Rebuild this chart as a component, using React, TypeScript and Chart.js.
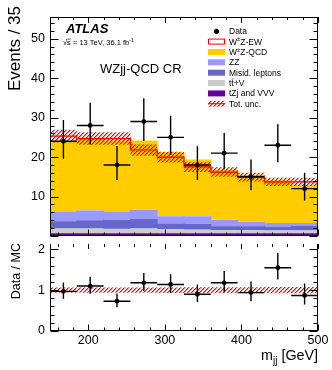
import React, { useEffect, useRef } from 'react';
import { Chart, registerables } from 'chart.js';

Chart.register(...registerables);

const FONT = '"Liberation Sans", Arial, Helvetica, sans-serif';

// ---------------- data ----------------
const binEdges = [150, 185, 220, 255, 290, 325, 360, 395, 430, 465, 500];
const binCenters = [167.5, 202.5, 237.5, 272.5, 307.5, 342.5, 377.5, 412.5, 447.5, 482.5];

const tzjVVV = [0.7, 0.7, 0.7, 0.7, 0.7, 0.7, 0.7, 0.7, 0.7, 0.7];
const ttV = [1.2, 1.2, 1.1, 1.2, 1.0, 0.9, 0.8, 0.8, 0.7, 0.7];
const misid = [1.85, 2.1, 2.3, 2.4, 1.5, 1.5, 1.0, 1.0, 1.0, 1.2];
const zz = [2.35, 2.5, 2.0, 2.4, 1.8, 1.9, 1.6, 1.1, 0.9, 0.7];
const wzQCD = [18.0, 18.4, 18.1, 17.5, 16.2, 14.4, 12.7, 11.9, 10.8, 9.6];
const wzEW = [0.4, 0.4, 0.5, 0.5, 0.6, 0.6, 0.7, 0.7, 0.8, 0.8];
const totUnc = [1.6, 1.6, 1.6, 1.6, 1.45, 1.35, 1.25, 1.2, 1.1, 1.05];

const dataEvents = [24, 28, 18, 29, 25, 18, 21, 15, 23, 12];
const dataErrUp = [5.4, 5.8, 4.8, 5.9, 5.5, 4.8, 5.1, 4.4, 5.3, 4.0];
const dataErrDown = [4.4, 4.8, 3.8, 4.9, 4.5, 3.8, 4.1, 3.4, 4.3, 3.0];

const ratioValues = [0.97, 1.1, 0.73, 1.18, 1.14, 0.9, 1.18, 0.94, 1.55, 0.87];
const ratioErrUp = [0.22, 0.23, 0.19, 0.24, 0.25, 0.24, 0.29, 0.27, 0.36, 0.29];
const ratioErrDown = [0.18, 0.19, 0.15, 0.2, 0.21, 0.19, 0.23, 0.21, 0.29, 0.22];

// ticks
const xMajorTicks = [200, 300, 400, 500];
const xMinorTicks = [160, 180, 220, 240, 260, 280, 320, 340, 360, 380, 420, 440, 460, 480];
const mainYLabels = [10, 20, 30, 40, 50];
const mainYMajor = [0, 10, 20, 30, 40, 50];
const mainYMinor = [2, 4, 6, 8, 12, 14, 16, 18, 22, 24, 26, 28, 32, 34, 36, 38, 42, 44, 46, 48, 52, 54];
const ratioYLabels = [0, 1, 2];
const ratioYMinor = [0.2, 0.4, 0.6, 0.8, 1.2, 1.4, 1.6, 1.8];

const MAIN_Y_MAX = 55.5;
const RATIO_Y_MAX = 2.13;

const COLORS = {
  qcd: '#ffcc00',
  zz: '#9999ff',
  misid: '#6666cc',
  ttv: '#cccccc',
  tzj: '#660099',
  red: '#ff0000',
};

// --------------- helpers ---------------
const mcTotal = binCenters.map(
  (_, i) => tzjVVV[i] + ttV[i] + misid[i] + zz[i] + wzQCD[i] + wzEW[i]
);

function stepPoints(vals: number[]) {
  return binEdges.map((e, i) => ({ x: e, y: vals[Math.min(i, vals.length - 1)] }));
}

function makeHatch(): CanvasPattern {
  const tile = document.createElement('canvas');
  tile.width = 4;
  tile.height = 4;
  const g = tile.getContext('2d')!;
  for (let y = 0; y < 4; y++) {
    g.fillStyle = 'rgba(255,0,0,1)';
    g.fillRect((3 - y + 4) % 4, y, 1, 1);
    g.fillStyle = 'rgba(255,0,0,0.45)';
    g.fillRect((4 - y + 4) % 4, y, 1, 1);
  }
  return g.createPattern(tile, 'repeat')!;
}

type Seg = { t: string; k?: 'sup' | 'sub' };
function drawSegs(ctx: CanvasRenderingContext2D, segs: Seg[], x: number, y: number, size: number, style = '') {
  let cx = x;
  for (const s of segs) {
    const fs = s.k ? size * 0.7 : size;
    ctx.font = `${style} ${fs}px ${FONT}`;
    const dy = s.k === 'sup' ? -size * 0.4 : s.k === 'sub' ? size * 0.28 : 0;
    ctx.fillText(s.t, cx, y + dy);
    cx += ctx.measureText(s.t).width;
  }
  return cx - x;
}
function segsWidth(ctx: CanvasRenderingContext2D, segs: Seg[], size: number, style = '') {
  let w = 0;
  for (const s of segs) {
    const fs = s.k ? size * 0.7 : size;
    ctx.font = `${style} ${fs}px ${FONT}`;
    w += ctx.measureText(s.t).width;
  }
  return w;
}

type TickCfg = {
  yMajor: number[];
  yMinor: number[];
  yMajLen: number;
  yMinLen: number;
  xMajLenBottom: number;
  xMinLenBottom: number;
  xMajLenTop: number;
  xMinLenTop: number;
  frameTop: boolean;
};

function ticksPlugin(cfg: TickCfg) {
  return {
    id: 'rootTicks',
    afterDraw(chart: any) {
      const { ctx, chartArea: a, scales } = chart;
      const xs = scales.x;
      const ys = scales.y;
      const px = (v: number) => Math.round(xs.getPixelForValue(v)) + 0.5;
      const py = (v: number) => Math.round(ys.getPixelForValue(v)) + 0.5;
      const L = a.left + 0.5;
      const R = a.right - 0.5;
      const T = a.top + 0.5;
      const B = a.bottom - 0.5;
      ctx.save();
      ctx.strokeStyle = '#000';
      ctx.lineWidth = 1;
      ctx.beginPath();
      const yt = (list: number[], len: number) => {
        for (const v of list) {
          const y = py(v);
          ctx.moveTo(L, y);
          ctx.lineTo(L + len, y);
          ctx.moveTo(R, y);
          ctx.lineTo(R - len, y);
        }
      };
      yt(cfg.yMajor, cfg.yMajLen);
      yt(cfg.yMinor, cfg.yMinLen);
      const xt = (list: number[], lb: number, lt: number) => {
        for (const v of list) {
          const x = px(v);
          ctx.moveTo(x, B);
          ctx.lineTo(x, B - lb);
          ctx.moveTo(x, a.top);
          ctx.lineTo(x, a.top + lt);
        }
      };
      xt(xMajorTicks, cfg.xMajLenBottom, cfg.xMajLenTop);
      xt(xMinorTicks, cfg.xMinLenBottom, cfg.xMinLenTop);
      // frame
      ctx.moveTo(L, a.top);
      ctx.lineTo(L, a.bottom);
      ctx.moveTo(R, a.top);
      ctx.lineTo(R, a.bottom);
      ctx.moveTo(a.left, B);
      ctx.lineTo(a.right, B);
      if (cfg.frameTop) {
        ctx.moveTo(a.left, T);
        ctx.lineTo(a.right, T);
      }
      ctx.stroke();
      ctx.restore();
    },
  };
}

function errorBarsPlugin(dsIndex: number, vals: number[], up: number[], down: number[]) {
  return {
    id: 'errBars',
    beforeDatasetDraw(chart: any, args: any) {
      if (args.index !== dsIndex) return;
      const { ctx, scales } = chart;
      const xs = scales.x;
      const ys = scales.y;
      ctx.save();
      ctx.strokeStyle = '#000';
      ctx.lineWidth = 1.4;
      ctx.beginPath();
      vals.forEach((v, i) => {
        const xl = xs.getPixelForValue(binEdges[i]);
        const xr = xs.getPixelForValue(binEdges[i + 1]);
        const xc = xs.getPixelForValue(binCenters[i]);
        const y = ys.getPixelForValue(v);
        ctx.moveTo(xl, y);
        ctx.lineTo(xr, y);
        ctx.moveTo(xc, ys.getPixelForValue(v + up[i]));
        ctx.lineTo(xc, ys.getPixelForValue(v - down[i]));
      });
      ctx.stroke();
      ctx.restore();
    },
  };
}

function upperTextPlugin(hatch: CanvasPattern) {
  return {
    id: 'upperText',
    afterDraw(chart: any) {
      const ctx: CanvasRenderingContext2D = chart.ctx;
      ctx.save();
      ctx.fillStyle = '#000';
      ctx.textBaseline = 'alphabetic';
      ctx.textAlign = 'left';

      // Y title
      ctx.save();
      ctx.translate(20, 6);
      ctx.rotate(-Math.PI / 2);
      ctx.textAlign = 'right';
      ctx.font = `17px ${FONT}`;
      ctx.fillText('Events / 35', 0, 0);
      ctx.restore();

      // ATLAS
      ctx.font = `bold italic 13px ${FONT}`;
      ctx.fillText('ATLAS', 66, 33);

      // sqrt(s)
      const fs = 7.5;
      ctx.font = `${fs}px ${FONT}`;
      const wRoot = ctx.measureText('√').width;
      const wS = ctx.measureText('s').width;
      drawSegs(ctx, [{ t: '√s = 13 TeV, 36.1 fb' }, { t: '-1', k: 'sup' }], 63, 45, fs);
      ctx.strokeStyle = '#000';
      ctx.lineWidth = 0.6;
      ctx.beginPath();
      ctx.moveTo(63 + wRoot - 0.5, 45 - fs * 0.78);
      ctx.lineTo(63 + wRoot + wS, 45 - fs * 0.78);
      ctx.stroke();

      // region label
      ctx.font = `13px ${FONT}`;
      ctx.fillText('WZjj-QCD CR', 100, 73);

      // legend
      const rows = [31.3, 41.6, 52, 62.3, 72.7, 83, 93.4, 103.7];
      const bx = 208;
      const bw = 17;
      const bh = 6;
      const tx = 229;
      const lf = 8.5;
      const base = (y: number) => y + 3;
      // Data
      ctx.beginPath();
      ctx.arc(bx + bw / 2, rows[0], 2.6, 0, Math.PI * 2);
      ctx.fill();
      ctx.font = `${lf}px ${FONT}`;
      ctx.fillText('Data', tx, base(rows[0]));
      // EW
      ctx.fillStyle = '#fff';
      ctx.fillRect(bx, rows[1] - bh / 2, bw, bh);
      ctx.strokeStyle = COLORS.red;
      ctx.lineWidth = 1;
      ctx.strokeRect(bx + 0.5, rows[1] - bh / 2 + 0.5, bw - 1, bh - 1);
      ctx.fillStyle = '#000';
      drawSegs(ctx, [{ t: 'W' }, { t: '±', k: 'sup' }, { t: 'Z-EW' }], tx, base(rows[1]), lf);
      const boxes: [number, string][] = [
        [2, COLORS.qcd],
        [3, COLORS.zz],
        [4, COLORS.misid],
        [5, COLORS.ttv],
        [6, COLORS.tzj],
      ];
      for (const [r, c] of boxes) {
        ctx.fillStyle = c;
        ctx.fillRect(bx, rows[r] - bh / 2, bw, bh);
      }
      ctx.fillStyle = '#000';
      drawSegs(ctx, [{ t: 'W' }, { t: '±', k: 'sup' }, { t: 'Z-QCD' }], tx, base(rows[2]), lf);
      ctx.font = `${lf}px ${FONT}`;
      ctx.fillText('ZZ', tx, base(rows[3]));
      ctx.fillText('Misid. leptons', tx, base(rows[4]));
      ctx.fillText('tt+V', tx, base(rows[5]));
      const wt = ctx.measureText('t').width;
      ctx.strokeStyle = '#000';
      ctx.lineWidth = 0.6;
      ctx.beginPath();
      ctx.moveTo(tx + wt + 0.2, base(rows[5]) - lf * 0.82);
      ctx.lineTo(tx + 2 * wt - 0.2, base(rows[5]) - lf * 0.82);
      ctx.stroke();
      ctx.fillText('tZj and VVV', tx, base(rows[6]));
      // tot unc
      ctx.fillStyle = hatch;
      ctx.fillRect(bx, rows[7] - bh / 2, bw, bh);
      ctx.strokeStyle = COLORS.red;
      ctx.lineWidth = 1;
      ctx.beginPath();
      ctx.moveTo(bx, rows[7]);
      ctx.lineTo(bx + bw, rows[7]);
      ctx.stroke();
      ctx.fillStyle = '#000';
      ctx.fillText('Tot. unc.', tx, base(rows[7]));
      ctx.restore();
    },
  };
}

function lowerTextPlugin() {
  return {
    id: 'lowerText',
    afterDraw(chart: any) {
      const ctx: CanvasRenderingContext2D = chart.ctx;
      ctx.save();
      ctx.fillStyle = '#000';
      ctx.textBaseline = 'alphabetic';
      // y title
      ctx.save();
      ctx.translate(20, 3);
      ctx.rotate(-Math.PI / 2);
      ctx.textAlign = 'right';
      ctx.font = `12.5px ${FONT}`;
      ctx.fillText('Data / MC', 0, 0);
      ctx.restore();
      // x title
      const segs: Seg[] = [{ t: 'm' }, { t: 'jj', k: 'sub' }, { t: ' [GeV]' }];
      const size = 14.3;
      const w = segsWidth(ctx, segs, size);
      ctx.textAlign = 'left';
      drawSegs(ctx, segs, chart.chartArea.right - w, 120, size);
      ctx.restore();
    },
  };
}

const tickFont = { family: FONT, size: 12.5 };

function upperConfig(hatch: CanvasPattern): any {
  const bar = (label: string, arr: number[], color: string) => ({
    type: 'bar',
    label,
    data: binCenters.map((x, i) => ({ x, y: arr[i] })),
    backgroundColor: color,
    borderWidth: 0,
    barPercentage: 1.03,
    categoryPercentage: 1,
    stack: 'mc',
    order: 10,
  });
  const datasets: any[] = [
    bar('tZj and VVV', tzjVVV, COLORS.tzj),
    bar('ttV', ttV, COLORS.ttv),
    bar('Misid. leptons', misid, COLORS.misid),
    bar('ZZ', zz, COLORS.zz),
    bar('WZ-QCD', wzQCD, COLORS.qcd),
    bar('WZ-EW', wzEW, '#ffffff'),
    {
      type: 'line',
      label: 'Total',
      data: stepPoints(mcTotal),
      stepped: 'after',
      borderColor: COLORS.red,
      borderWidth: 1.2,
      pointRadius: 0,
      fill: false,
      stack: 'tot',
      order: 2,
    },
    {
      type: 'line',
      label: 'Tot. unc.',
      data: stepPoints(mcTotal.map((v, i) => v + totUnc[i])),
      stepped: 'after',
      borderColor: 'rgba(0,0,0,0)',
      borderWidth: 1,
      pointRadius: 0,
      backgroundColor: hatch,
      fill: '+1',
      stack: 'bandHi',
      order: 1,
    },
    {
      type: 'line',
      label: 'unc-lo',
      data: stepPoints(mcTotal.map((v, i) => v - totUnc[i])),
      stepped: 'after',
      borderColor: 'rgba(0,0,0,0)',
      borderWidth: 1,
      pointRadius: 0,
      fill: false,
      stack: 'bandLo',
      order: 1,
    },
    {
      type: 'scatter',
      label: 'Data',
      data: binCenters.map((x, i) => ({ x, y: dataEvents[i] })),
      pointRadius: 2.4,
      pointBackgroundColor: '#000',
      pointBorderWidth: 0,
      showLine: false,
      stack: 'data',
      order: 0,
    },
  ];
  const dataIdx = datasets.length - 1;
  return {
    type: 'bar',
    data: { datasets },
    options: {
      animation: false,
      responsive: false,
      devicePixelRatio: 1,
      events: [],
      layout: { padding: { left: 0, top: 17, right: 14, bottom: 0 } },
      plugins: { legend: { display: false }, tooltip: { enabled: false }, title: { display: false } },
      scales: {
        x: {
          type: 'linear',
          min: 150,
          max: 500,
          offset: false,
          stacked: true,
          grid: { display: false, drawTicks: false },
          border: { display: false },
          ticks: { display: false },
          afterBuildTicks: (s: any) => {
            s.ticks = xMajorTicks.map((v) => ({ value: v }));
          },
          afterFit: (s: any) => {
            s.height = 0;
            s.paddingLeft = 0;
            s.paddingRight = 0;
          },
        },
        y: {
          type: 'linear',
          min: 0,
          max: MAIN_Y_MAX,
          stacked: true,
          grid: { display: false, drawTicks: false },
          border: { display: false },
          ticks: { font: tickFont, color: '#000', padding: 5 },
          afterBuildTicks: (s: any) => {
            s.ticks = mainYLabels.map((v) => ({ value: v }));
          },
          afterFit: (s: any) => {
            s.width = 50;
            s.paddingTop = 0;
            s.paddingBottom = 0;
          },
        },
      },
    },
    plugins: [
      errorBarsPlugin(dataIdx, dataEvents, dataErrUp, dataErrDown),
      ticksPlugin({
        yMajor: mainYMajor,
        yMinor: mainYMinor,
        yMajLen: 8,
        yMinLen: 4,
        xMajLenBottom: 6,
        xMinLenBottom: 3,
        xMajLenTop: 6,
        xMinLenTop: 3,
        frameTop: true,
      }),
      upperTextPlugin(hatch),
    ],
  };
}

function lowerConfig(hatch: CanvasPattern): any {
  const datasets: any[] = [
    {
      type: 'line',
      label: 'ratio-unc-hi',
      data: stepPoints(mcTotal.map((v, i) => 1 + totUnc[i] / v)),
      stepped: 'after',
      borderColor: 'rgba(0,0,0,0)',
      borderWidth: 1,
      pointRadius: 0,
      backgroundColor: hatch,
      fill: '+1',
      order: 2,
    },
    {
      type: 'line',
      label: 'ratio-unc-lo',
      data: stepPoints(mcTotal.map((v, i) => 1 - totUnc[i] / v)),
      stepped: 'after',
      borderColor: 'rgba(0,0,0,0)',
      borderWidth: 1,
      pointRadius: 0,
      fill: false,
      order: 2,
    },
    {
      type: 'scatter',
      label: 'Data / MC',
      data: binCenters.map((x, i) => ({ x, y: ratioValues[i] })),
      pointRadius: 2.4,
      pointBackgroundColor: '#000',
      pointBorderWidth: 0,
      showLine: false,
      order: 0,
    },
  ];
  return {
    type: 'line',
    data: { datasets },
    options: {
      animation: false,
      responsive: false,
      devicePixelRatio: 1,
      events: [],
      layout: { padding: { left: 0, top: 0, right: 14, bottom: 0 } },
      plugins: { legend: { display: false }, tooltip: { enabled: false }, title: { display: false } },
      scales: {
        x: {
          type: 'linear',
          min: 150,
          max: 500,
          offset: false,
          grid: { display: false, drawTicks: false },
          border: { display: false },
          ticks: { font: tickFont, color: '#000', padding: 2, maxRotation: 0 },
          afterBuildTicks: (s: any) => {
            s.ticks = xMajorTicks.map((v) => ({ value: v }));
          },
          afterFit: (s: any) => {
            s.height = 39;
            s.paddingLeft = 0;
            s.paddingRight = 0;
          },
        },
        y: {
          type: 'linear',
          min: 0,
          max: RATIO_Y_MAX,
          grid: { display: false, drawTicks: false },
          border: { display: false },
          ticks: { font: tickFont, color: '#000', padding: 5 },
          afterBuildTicks: (s: any) => {
            s.ticks = ratioYLabels.map((v) => ({ value: v }));
          },
          afterFit: (s: any) => {
            s.width = 50;
            s.paddingTop = 0;
            s.paddingBottom = 0;
          },
        },
      },
    },
    plugins: [
      errorBarsPlugin(2, ratioValues, ratioErrUp, ratioErrDown),
      ticksPlugin({
        yMajor: ratioYLabels,
        yMinor: ratioYMinor,
        yMajLen: 8,
        yMinLen: 4,
        xMajLenBottom: 6,
        xMinLenBottom: 3,
        xMajLenTop: 5,
        xMinLenTop: 3,
        frameTop: false,
      }),
      lowerTextPlugin(),
    ],
  };
}

export default function App() {
  const upRef = useRef<HTMLCanvasElement>(null);
  const loRef = useRef<HTMLCanvasElement>(null);
  useEffect(() => {
    const hatch = makeHatch();
    const c1 = new Chart(upRef.current!, upperConfig(hatch));
    const c2 = new Chart(loRef.current!, lowerConfig(hatch));
    return () => {
      c1.destroy();
      c2.destroy();
    };
  }, []);
  return (
    <div style={{ position: 'absolute', left: 0, top: 0, width: 332, height: 370, background: '#fff' }}>
      <canvas
        ref={upRef}
        width={332}
        height={240}
        style={{ position: 'absolute', left: 0, top: 0, width: 332, height: 240 }}
      />
      <canvas
        ref={loRef}
        width={332}
        height={130}
        style={{ position: 'absolute', left: 0, top: 240, width: 332, height: 130 }}
      />
    </div>
  );
}
